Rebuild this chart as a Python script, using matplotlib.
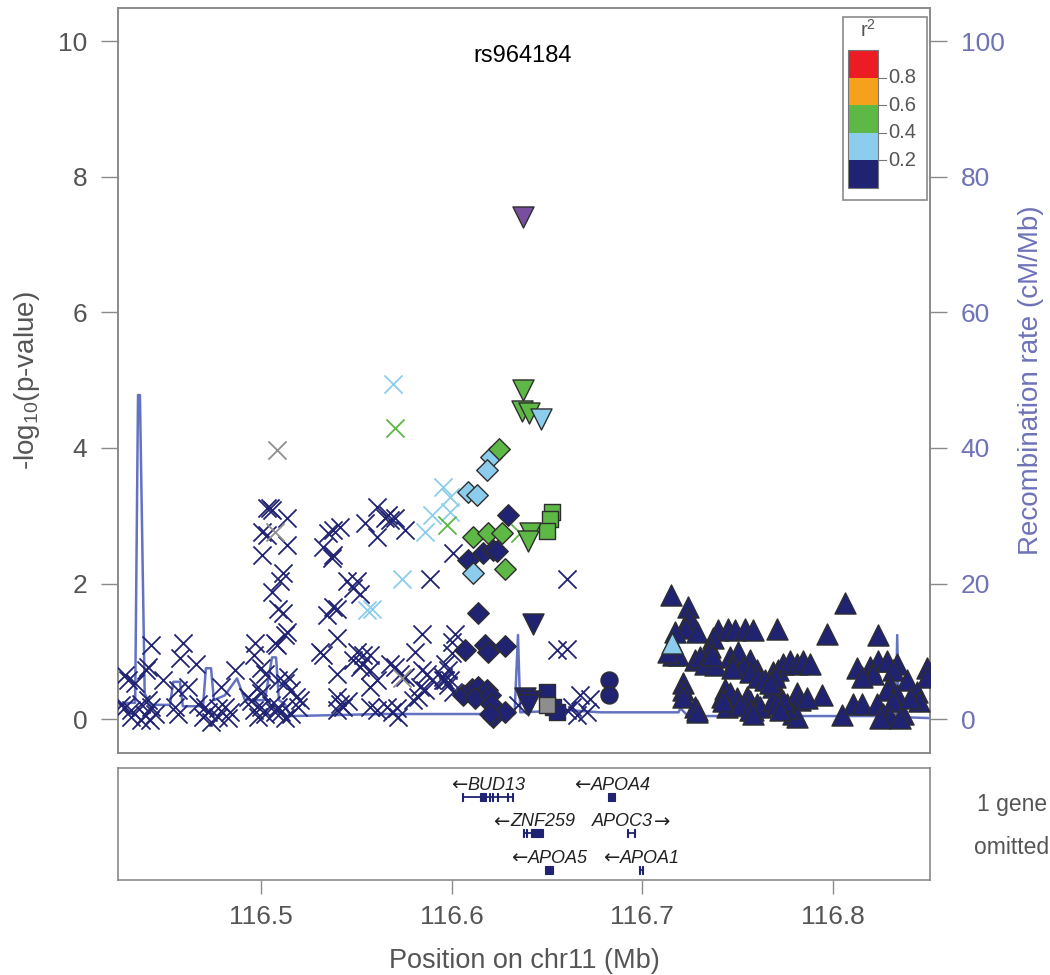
import matplotlib
matplotlib.use("Agg")
import matplotlib.pyplot as plt
from matplotlib.patches import Rectangle
import numpy as np

plt.rcParams['font.family'] = ['Liberation Sans', 'DejaVu Sans']
plt.rcParams['mathtext.fontset'] = 'custom'
plt.rcParams['mathtext.rm'] = 'Liberation Sans'
plt.rcParams['mathtext.it'] = 'Liberation Sans:italic'

# ---------------- data ----------------
lead_snp = "rs964184"
lead_pos = [116.6373]
lead_logp = [7.40]

# crosses (no annotation) by r2 colour class
cross_navy = [
    (116.4265, 0.21), (116.4286, 0.18), (116.4318, 0.13), (116.4286, 0.65), (116.4302, 0.58),
    (116.4339, 0.53), (116.4370, 0.23), (116.4407, 0.28), (116.4423, 0.18), (116.4444, 0.08),
    (116.4418, -0.02), (116.4318, 0.03), (116.4370, -0.01), (116.4391, 0.06), (116.4423, 1.09),
    (116.4407, 0.77), (116.4395, 0.72), (116.4486, 0.58), (116.4565, 0.43), (116.4617, 0.48),
    (116.4591, 1.12), (116.4575, 0.90), (116.4659, 0.82), (116.4549, 0.18), (116.4565, 0.08),
    (116.4669, 0.23), (116.4706, 0.18), (116.4722, 0.11), (116.4696, 0.03), (116.4774, 0.16),
    (116.4811, 0.18), (116.4837, 0.11), (116.4774, 0.03), (116.4827, 0.01), (116.4738, -0.04),
    (116.4790, 0.48), (116.4864, 0.72),
    (116.4932, 0.33), (116.4948, 0.26), (116.4963, 0.13), (116.5000, 0.18), (116.5021, 0.08),
    (116.4984, 0.03), (116.5052, 0.21), (116.5073, 0.11), (116.5089, 0.18), (116.5105, 0.11),
    (116.5157, 0.08), (116.5184, 0.33), (116.5194, 0.18), (116.5126, 0.01), (116.4984, 0.48),
    (116.5000, 0.38), (116.5089, 0.58), (116.5126, 0.53), (116.5157, 0.43), (116.5142, 0.62),
    (116.5000, 0.75), (116.5021, 0.67), (116.4969, 1.12), (116.4963, 0.94), (116.5073, 1.12),
    (116.5084, 1.09), (116.5136, 1.29), (116.5126, 1.24), (116.5089, 1.63), (116.5115, 1.56),
    (116.5058, 1.88), (116.5100, 2.03), (116.5115, 2.15), (116.5005, 2.42), (116.5136, 2.57),
    (116.5136, 2.96), (116.5005, 2.76), (116.5031, 2.71), (116.5031, 3.11), (116.5056, 3.08),
    (116.5045, 3.12),
    (116.5609, 3.13), (116.5546, 2.89), (116.5609, 2.69), (116.5651, 2.96), (116.5677, 2.94),
    (116.5703, 2.96), (116.5666, 3.01), (116.5756, 2.79), (116.5378, 2.79), (116.5414, 2.84),
    (116.5352, 2.74), (116.5325, 2.54), (116.5378, 2.42), (116.5370, 2.37), (116.5887, 2.07),
    (116.5451, 2.03), (116.5504, 2.03), (116.5483, 1.93), (116.5519, 1.85), (116.5378, 1.66),
    (116.5399, 1.63), (116.5346, 1.53), (116.5399, 1.19), (116.5845, 1.26), (116.5310, 0.99),
    (116.5325, 0.94), (116.5504, 0.99), (116.5535, 0.94), (116.5572, 0.94), (116.5808, 0.99),
    (116.6002, 0.97), (116.5399, 0.67), (116.5677, 0.82), (116.5703, 0.77), (116.5530, 0.82),
    (116.5572, 0.72), (116.5609, 0.58), (116.5572, 0.48), (116.5729, 0.67), (116.5756, 0.62),
    (116.5845, 0.72), (116.5871, 0.67), (116.5897, 0.58), (116.5834, 0.48), (116.5860, 0.43),
    (116.5955, 0.58), (116.5981, 0.50), (116.5992, 0.58), (116.6007, 0.40), (116.5824, 0.33),
    (116.5797, 0.28), (116.5399, 0.33), (116.5414, 0.23), (116.5430, 0.18), (116.5399, 0.13),
    (116.5456, 0.26), (116.5572, 0.18), (116.5609, 0.13), (116.5661, 0.18), (116.5687, 0.11),
    (116.5714, 0.16), (116.5719, 0.03), (116.5205, 0.28), (116.5483, 0.87), (116.5519, 0.77),
    (116.6002, 1.14), (116.6018, 1.26), (116.5965, 0.82), (116.5981, 0.72), (116.5955, 0.62),
    (116.5965, 0.58), (116.6553, 1.02), (116.6605, 1.04), (116.6605, 2.07), (116.6007, 2.45),
    (116.6348, 0.21), (116.6674, 0.35), (116.6710, 0.11), (116.6658, 0.06), (116.6632, 0.18),
    (116.6605, 0.13), (116.6726, 0.30),
]
cross_lightblue = [
    (116.5693, 4.95), (116.5955, 3.43), (116.5992, 3.28), (116.5897, 3.01), (116.5992, 3.05),
    (116.5860, 2.76), (116.5740, 2.07), (116.5556, 1.61), (116.5582, 1.63),
]
cross_green = [(116.5703, 4.29), (116.5976, 2.86), (116.6359, 2.74)]
cross_grey = [(116.5082, 3.97), (116.5073, 2.76), (116.5740, 0.60)]

# diamonds
diamond_green = [(116.6249, 3.98), (116.6112, 2.68), (116.6191, 2.74), (116.6264, 2.74), (116.6280, 2.22)]
diamond_lightblue = [(116.6207, 3.86), (116.6186, 3.67), (116.6086, 3.35), (116.6133, 3.30), (116.6112, 2.15)]
diamond_navy = [
    (116.6296, 3.01), (116.6165, 2.45), (116.6217, 2.50), (116.6238, 2.48), (116.6086, 2.35),
    (116.6139, 1.57), (116.6070, 1.02), (116.6175, 1.09), (116.6191, 0.99), (116.6280, 1.08),
    (116.6060, 0.35), (116.6107, 0.45), (116.6139, 0.48), (116.6186, 0.43), (116.6123, 0.31),
    (116.6201, 0.35), (116.6207, 0.23), (116.6217, 0.03), (116.6280, 0.11), (116.6201, 0.08),
]

# downward triangles
tridown_green = [(116.6375, 4.85), (116.6370, 4.55), (116.6406, 4.52), (116.6411, 2.74), (116.6401, 2.62)]
tridown_lightblue = [(116.6469, 4.42)]
tridown_navy = [(116.6427, 1.41), (116.6385, 0.31), (116.6411, 0.26), (116.6401, 0.21)]

# squares
square_green = [(116.6527, 3.05), (116.6516, 2.95), (116.6501, 2.78)]
square_navy = [(116.6501, 0.40), (116.6532, 0.18), (116.6553, 0.11)]
square_grey = [(116.6501, 0.21)]

# circles
circle_navy = [(116.6826, 0.58), (116.6826, 0.35)]

# upward triangles
triup_lightblue = [(116.7154, 1.12)]
triup_navy = [
    (116.7151, 1.83), (116.7240, 1.66), (116.7240, 1.48), (116.7267, 1.39), (116.7225, 1.34),
    (116.7288, 1.29), (116.7172, 1.29), (116.7162, 0.94), (116.7188, 0.94), (116.7135, 0.99),
    (116.7398, 1.31), (116.7450, 1.33), (116.7487, 1.31), (116.7539, 1.33), (116.7581, 1.31),
    (116.7707, 1.33), (116.7371, 1.19), (116.7356, 1.07), (116.7345, 0.97),
    (116.7277, 0.87), (116.7303, 0.92), (116.7330, 0.82), (116.7382, 0.80), (116.7366, 0.94),
    (116.7461, 0.92), (116.7503, 0.99), (116.7476, 0.82), (116.7566, 0.87), (116.7529, 0.77),
    (116.7471, 0.75), (116.7602, 0.72), (116.7566, 0.70), (116.7608, 0.62), (116.7686, 0.70),
    (116.7713, 0.72), (116.7681, 0.58), (116.7644, 0.58),
    (116.7214, 0.53), (116.7214, 0.43), (116.7214, 0.33), (116.7288, 0.13), (116.7277, 0.18),
    (116.7434, 0.45), (116.7419, 0.33), (116.7461, 0.38), (116.7497, 0.31), (116.7550, 0.33),
    (116.7566, 0.26), (116.7602, 0.23), (116.7445, 0.18), (116.7513, 0.21), (116.7581, 0.13),
    (116.7618, 0.18), (116.7424, 0.26),
    (116.7686, 0.48), (116.7707, 0.38), (116.7723, 0.26), (116.7760, 0.23), (116.7686, 0.28),
    (116.8064, 1.71), (116.7968, 1.26), (116.8237, 1.24),
    (116.8127, 0.75), (116.8195, 0.77), (116.8237, 0.85), (116.8284, 0.85), (116.8337, 0.82),
    (116.8316, 0.72), (116.8211, 0.67), (116.8153, 0.62), (116.8494, 0.75), (116.8494, 0.62),
    (116.8390, 0.58), (116.8300, 0.50), (116.8284, 0.43), (116.8442, 0.40), (116.8452, 0.26),
    (116.8337, 0.35), (116.8316, 0.26), (116.7943, 0.35), (116.8106, 0.23), (116.8153, 0.23),
    (116.8232, 0.23), (116.8263, 0.08), (116.8300, 0.03), (116.8369, 0.08), (116.8353, 0.01),
    (116.8248, 0.01), (116.8048, 0.06),
    (116.7812, 0.38), (116.7828, 0.28), (116.7791, 0.08), (116.7812, 0.03), (116.7760, 0.16),
    (116.7739, 0.26), (116.7865, 0.31), (116.7739, 0.82), (116.7775, 0.85), (116.7812, 0.82),
    (116.7844, 0.85), (116.7880, 0.82), (116.7697, 0.62), (116.7671, 0.53), (116.7288, 0.11),
    (116.7707, 0.23), (116.7723, 0.13), (116.7566, 0.13), (116.7581, 0.08), (116.8405, 0.31),
]

# recombination rate (cM/Mb)
recomb_pos = [116.4250, 116.4313, 116.4340, 116.4355, 116.4365, 116.4390, 116.4418, 116.4523,
              116.4540, 116.4575, 116.4590, 116.4696, 116.4711, 116.4738, 116.4753, 116.4810,
              116.4874, 116.4916, 116.5020, 116.5058, 116.5079, 116.5094, 116.5126, 116.5152,
              116.5400, 116.5624, 116.6330, 116.6348, 116.6360, 116.6620, 116.6780, 116.7190,
              116.7200, 116.7240, 116.8330, 116.8337, 116.8345, 116.8509]
recomb_rate = [2.1, 2.4, 2.4, 47.8, 47.8, 3.8, 2.1, 2.1,
               5.5, 5.5, 1.9, 1.9, 7.5, 7.5, 2.8, 3.5,
               6.0, 2.8, 2.8, 9.1, 9.1, 2.8, 2.2, 0.45,
               0.6, 0.75, 0.75, 12.4, 1.0, 1.3, 1.0, 1.0,
               1.6, 0.45, 0.45, 12.4, 0.3, 0.15]

# genes
gene_names = ["BUD13", "ZNF259", "APOA5", "APOA4", "APOC3", "APOA1"]
gene_start = [116.6053, 116.6376, 116.6490, 116.6822, 116.6922, 116.6985]
gene_end = [116.6324, 116.6481, 116.6530, 116.6857, 116.6962, 116.7003]
gene_strand = ["-", "-", "-", "-", "+", "-"]
gene_row = [0, 1, 2, 0, 1, 2]
gene_exons = [
    [(116.6053, 116.6058), (116.6147, 116.6180), (116.6194, 116.6199), (116.6212, 116.6217),
     (116.6238, 116.6243), (116.6290, 116.6295), (116.6318, 116.6324)],
    [(116.6376, 116.6381), (116.6390, 116.6395), (116.6418, 116.6481)],
    [(116.6490, 116.6530)],
    [(116.6822, 116.6857)],
    [(116.6922, 116.6927), (116.6957, 116.6962)],
    [(116.6985, 116.6990), (116.6998, 116.7003)],
]

legend_breaks = [0.2, 0.4, 0.6, 0.8]
legend_colors = ["#1F2372", "#8CCDEE", "#5DB846", "#F6A11C", "#EC1C24"]

xlim = (116.425, 116.8509)
ylim = (-0.5, 10.49)
recomb_lim = (-5.0, 104.9)
x_ticks = [116.5, 116.6, 116.7, 116.8]
y_ticks = [0, 2, 4, 6, 8, 10]
r_ticks = [0, 20, 40, 60, 80, 100]

# ---------------- styling ----------------
NAVY, LBLUE, GREEN = legend_colors[0], legend_colors[1], legend_colors[2]
GREY = "#8E8E8E"
PURPLE = "#7A4E9F"
RECOMB = "#6472C2"
RAXIS = "#6E73B8"
TICKC = "#555555"
SPINE = "#8A8A8A"
EDGE = "#2E2E2E"

fig = plt.figure(figsize=(10.5, 9.75), dpi=100)
ax = fig.add_axes([118 / 1050, 1 - 753 / 975, 812 / 1050, 745 / 975])
ax2 = ax.twinx()
axg = fig.add_axes([118 / 1050, 1 - 880 / 975, 812 / 1050, 112 / 975])

# recombination line on the twin axis, drawn beneath points
ax2.plot(recomb_pos, recomb_rate, color=RECOMB, lw=1.8, zorder=1)
ax2.set_ylim(*recomb_lim)
ax.set_zorder(ax2.get_zorder() + 1)
ax.patch.set_visible(False)


def pts(lst):
    a = np.array(lst, dtype=float)
    return a[:, 0], a[:, 1]


def cross(lst, color):
    x, y = pts(lst)
    ax.scatter(x, y, marker='x', s=170, c=color, linewidths=1.3, zorder=3)


def filled(lst, marker, color, s):
    x, y = pts(lst)
    ax.scatter(x, y, marker=marker, s=s, c=color, edgecolors=EDGE, linewidths=1.0, zorder=4)


cross(cross_navy, NAVY)
cross(cross_grey, GREY)
cross(cross_lightblue, LBLUE)
cross(cross_green, GREEN)

DS, TS, SS = 120, 230, 140
filled(diamond_navy, 'D', NAVY, DS)
filled(diamond_lightblue, 'D', LBLUE, DS)
filled(diamond_green, 'D', GREEN, DS)
filled(square_navy, 's', NAVY, SS)
filled(square_grey, 's', GREY, SS)
filled(square_green, 's', GREEN, SS)
filled(tridown_navy, 'v', NAVY, TS)
filled(tridown_green, 'v', GREEN, TS)
filled(tridown_lightblue, 'v', LBLUE, TS)
filled(circle_navy, 'o', NAVY, 150)
filled(triup_navy, '^', NAVY, TS)
filled(triup_lightblue, '^', LBLUE, TS)
filled(list(zip(lead_pos, lead_logp)), 'v', PURPLE, TS)

ax.set_xlim(*xlim)
ax.set_ylim(*ylim)
ax.set_yticks(y_ticks)
ax.set_xticks([])
ax.tick_params(axis='y', colors=SPINE, labelcolor=TICKC, labelsize=19, length=12, width=1, pad=10)
ax.set_ylabel('-log$_{10}$(p-value)', fontsize=20, color=TICKC, labelpad=12)

ax2.set_yticks(r_ticks)
ax2.tick_params(axis='y', colors=SPINE, labelcolor=RAXIS, labelsize=19, length=12, width=1, pad=10)
ax2.set_ylabel('Recombination rate (cM/Mb)', fontsize=20, color=RAXIS, rotation=90, labelpad=10)
for a in (ax, ax2):
    for sp in a.spines.values():
        sp.set_color(SPINE)
        sp.set_linewidth(1.2)

ax.text(lead_pos[0], 9.78, lead_snp, ha='center', va='center', fontsize=17, color='black')

# r2 legend
lx0, lx1 = (843 - 118) / 812, (927 - 118) / 812
ly0, ly1 = 1 - (200 - 8) / 745, 1 - (17 - 8) / 745
ax.add_patch(Rectangle((lx0, ly0), lx1 - lx0, ly1 - ly0, transform=ax.transAxes,
                       facecolor='white', edgecolor=SPINE, lw=1.2, zorder=6))
bx0, bx1 = (848 - 118) / 812, (878 - 118) / 812
by_bottom, by_top = 1 - (188 - 8) / 745, 1 - (50 - 8) / 745
nb = len(legend_colors)
bh = (by_top - by_bottom) / nb
for i, col in enumerate(legend_colors):
    ax.add_patch(Rectangle((bx0, by_bottom + i * bh), bx1 - bx0, bh, transform=ax.transAxes,
                           facecolor=col, edgecolor='none', zorder=7))
ax.add_patch(Rectangle((bx0, by_bottom), bx1 - bx0, by_top - by_bottom, transform=ax.transAxes,
                       facecolor='none', edgecolor='#777777', lw=0.8, zorder=8))
for i, b in enumerate(legend_breaks):
    yy = by_bottom + (i + 1) * bh
    ax.plot([bx1, bx1 + 0.01], [yy, yy], transform=ax.transAxes, color='#777777', lw=0.8, zorder=8)
    ax.text(bx1 + 0.013, yy, f"{b:.1f}", transform=ax.transAxes, ha='left', va='center',
            fontsize=14.5, color=TICKC, zorder=8)
ax.text((bx0 + bx1) / 2 + 0.006, 1 - (30 - 8) / 745, 'r$^2$', transform=ax.transAxes, ha='center',
        va='center', fontsize=14.5, color=TICKC, zorder=8)

# gene panel
axg.set_xlim(*xlim)
axg.set_ylim(0, 1)
row_bar = [0.744, 0.417, 0.089]
row_lab = [0.848, 0.52, 0.194]
for name, s, e, strand, r, exons in zip(gene_names, gene_start, gene_end, gene_strand, gene_row, gene_exons):
    yb = row_bar[r]
    axg.plot([s, e], [yb, yb], color=NAVY, lw=1.3, solid_capstyle='butt')
    for (es, ee) in exons:
        axg.add_patch(Rectangle((es, yb - 0.035), ee - es, 0.07, facecolor=NAVY, edgecolor=NAVY, lw=0.8))
    shift = 6.5 if strand == '-' else -6.5
    t = axg.annotate(name, xy=((s + e) / 2, row_lab[r]), xytext=(shift, 0),
                     textcoords='offset points', ha='center', va='center',
                     fontsize=13, style='italic', color='#222222')
    if strand == '-':
        axg.annotate('\u2190', xy=(0, 0.5), xycoords=t, xytext=(-0.5, 0), textcoords='offset points',
                     ha='right', va='center', fontsize=14, family='DejaVu Sans', color='#222222')
    else:
        axg.annotate('\u2192', xy=(1, 0.5), xycoords=t, xytext=(0.5, 0), textcoords='offset points',
                     ha='left', va='center', fontsize=14, family='DejaVu Sans', color='#222222')
axg.set_yticks([])
axg.set_xticks(x_ticks)
axg.set_xticklabels([f"{t:.1f}" for t in x_ticks])
axg.tick_params(axis='x', colors=SPINE, labelcolor=TICKC, labelsize=19, length=10, width=1, pad=8)
for sp in axg.spines.values():
    sp.set_color(SPINE)
    sp.set_linewidth(1.2)
axg.set_xlabel('Position on chr11 (Mb)', fontsize=19.5, color=TICKC, labelpad=14)

fig.text(1012 / 1050, 1 - 805 / 975, '1 gene', ha='center', va='center', fontsize=16.5, color=TICKC)
fig.text(1012 / 1050, 1 - 848 / 975, 'omitted', ha='center', va='center', fontsize=16.5, color=TICKC)

fig.savefig('out.png', dpi=100)
